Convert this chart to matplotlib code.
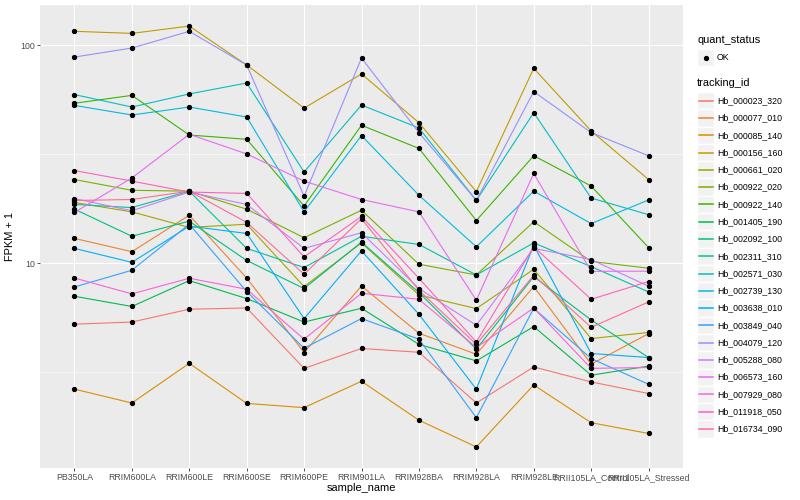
import matplotlib
matplotlib.use("Agg")
import matplotlib.pyplot as plt
import numpy as np
from matplotlib.patches import Rectangle
from matplotlib.ticker import FixedLocator, NullFormatter

plt.rcParams['font.family'] = ['Liberation Sans', 'DejaVu Sans']

samples = ['PB350LA', 'RRIM600LA', 'RRIM600LE', 'RRIM600SE', 'RRIM600PE', 'RRIM901LA',
           'RRIM928BA', 'RRIM928LA', 'RRIM928LE', 'RRII105LA_Control', 'RRII105LA_Stressed']

tracking_ids = ['Hb_000023_320', 'Hb_000077_010', 'Hb_000085_140', 'Hb_000156_160',
                'Hb_000661_020', 'Hb_000922_020', 'Hb_000922_140', 'Hb_001405_190',
                'Hb_002092_100', 'Hb_002311_310', 'Hb_002571_030', 'Hb_002739_130',
                'Hb_003638_010', 'Hb_003849_040', 'Hb_004079_120', 'Hb_005288_080',
                'Hb_006573_160', 'Hb_007929_080', 'Hb_011918_050', 'Hb_016734_090']

# FPKM + 1 per sample, in the order of `samples`
hb_000023_320 = [5.26, 5.38, 6.16, 6.24, 3.30, 4.07, 3.91, 2.29, 3.35, 2.86, 2.53]
hb_000077_010 = [13.0, 11.3, 16.6, 8.56, 3.90, 7.87, 4.78, 3.83, 7.82, 3.45, 4.76]
hb_000085_140 = [2.65, 2.29, 3.48, 2.28, 2.18, 2.88, 1.91, 1.44, 2.77, 1.86, 1.66]
hb_000156_160 = [115.6, 113.1, 122.2, 81.0, 51.4, 73.7, 44.1, 21.3, 78.2, 40.4, 24.2]
hb_000661_020 = [19.0, 17.2, 14.6, 15.1, 7.82, 12.4, 7.16, 6.20, 9.39, 4.52, 4.82]
hb_000922_020 = [24.2, 21.6, 21.4, 17.7, 13.1, 17.5, 9.9, 8.84, 15.5, 10.2, 9.49]
hb_000922_140 = [54.1, 58.8, 38.7, 37.0, 18.3, 42.9, 33.6, 15.7, 31.1, 22.6, 11.8]
hb_001405_190 = [7.06, 6.34, 8.33, 6.89, 5.38, 6.22, 4.25, 3.57, 5.13, 3.07, 3.38]
hb_002092_100 = [17.7, 13.3, 15.6, 10.3, 7.66, 12.5, 7.34, 4.04, 8.69, 5.50, 3.70]
hb_002311_310 = [18.6, 18.0, 21.4, 11.7, 9.56, 13.3, 12.2, 8.84, 12.4, 9.66, 7.39]
hb_002571_030 = [59.3, 52.0, 59.7, 67.0, 26.2, 53.1, 41.7, 19.4, 49.0, 19.9, 16.7]
hb_002739_130 = [52.9, 47.8, 52.0, 46.8, 17.2, 38.5, 20.5, 11.9, 21.4, 15.2, 19.5]
hb_003638_010 = [11.7, 10.1, 14.8, 13.7, 5.58, 11.4, 5.84, 2.65, 12.1, 3.86, 3.70]
hb_003849_040 = [7.79, 9.29, 15.1, 7.42, 4.08, 5.58, 4.49, 1.96, 6.22, 3.66, 2.79]
hb_004079_120 = [88.1, 96.9, 115.6, 81.0, 20.3, 87.2, 39.7, 19.4, 61.2, 39.7, 31.1]
hb_005288_080 = [19.8, 17.4, 21.2, 18.6, 11.7, 13.8, 7.66, 5.20, 11.7, 10.4, 7.85]
hb_006573_160 = [17.1, 24.6, 39.0, 31.7, 23.8, 19.6, 17.2, 6.77, 25.8, 9.19, 9.20]
hb_007929_080 = [8.56, 7.24, 8.54, 7.60, 4.49, 7.29, 6.84, 4.11, 6.24, 3.30, 3.33]
hb_011918_050 = [26.6, 23.8, 21.2, 20.9, 10.7, 16.4, 8.54, 4.36, 11.9, 6.84, 8.25]
hb_016734_090 = [19.4, 19.6, 21.4, 15.4, 8.91, 16.0, 7.52, 4.25, 8.81, 5.09, 6.65]

series = [hb_000023_320, hb_000077_010, hb_000085_140, hb_000156_160, hb_000661_020,
          hb_000922_020, hb_000922_140, hb_001405_190, hb_002092_100, hb_002311_310,
          hb_002571_030, hb_002739_130, hb_003638_010, hb_003849_040, hb_004079_120,
          hb_005288_080, hb_006573_160, hb_007929_080, hb_011918_050, hb_016734_090]

# ggplot2 default hue palette for 20 levels
colors = ['#F8766D', '#EA8331', '#D89000', '#C09B00', '#A3A500', '#7CAE00', '#39B600',
          '#00BB4E', '#00BF7D', '#00C1A3', '#00BFC4', '#00BAE0', '#00B0F6', '#35A2FF',
          '#9590FF', '#C77CFF', '#E76BF3', '#FA62DB', '#FF62BC', '#FF6C91']

fig = plt.figure(figsize=(8, 5), dpi=100)
ax = fig.add_axes([40 / 800, 32 / 500, 643 / 800, 463 / 500])
ax.set_facecolor('#EBEBEB')

x = np.arange(len(samples))
for vals, col in zip(series, colors):
    ax.plot(x, vals, color=col, lw=0.8, zorder=2)
for vals in series:
    ax.plot(x, vals, 'o', color='black', ms=2.8, zorder=3)

ax.set_yscale('log')
allv = np.log10(np.concatenate([np.array(s) for s in series]))
lo, hi = allv.min(), allv.max()
pad = 0.05 * (hi - lo)
ax.set_ylim(10 ** (lo - pad), 10 ** (hi + pad))
ax.set_xlim(-0.6, len(samples) - 0.4)

ax.yaxis.set_major_locator(FixedLocator([10, 100]))
ax.set_yticklabels(['10', '100'])
ax.yaxis.set_minor_locator(FixedLocator([10 ** 0.5, 10 ** 1.5]))
ax.yaxis.set_minor_formatter(NullFormatter())
ax.set_xticks(x)
ax.set_xticklabels(samples)

ax.grid(True, which='major', color='white', lw=0.8)
ax.grid(True, which='minor', axis='y', color='white', lw=0.4)
ax.set_axisbelow(True)
for sp in ax.spines.values():
    sp.set_visible(False)
ax.tick_params(axis='both', which='major', length=2, width=0.6, color='#333333',
               labelsize=6.3, labelcolor='#4D4D4D', pad=1.5)
ax.tick_params(axis='y', which='minor', length=0)

ax.set_xlabel('sample_name', fontsize=7.9, labelpad=1)
ax.set_ylabel('FPKM + 1', fontsize=7.9, labelpad=4)

# legends drawn in pixel coordinates on an overlay
lg = fig.add_axes([0, 0, 1, 1], zorder=5)
lg.set_xlim(0, 800)
lg.set_ylim(500, 0)
lg.axis('off')

lg.text(697, 40, 'quant_status', fontsize=7.9, va='center', ha='left')
lg.add_patch(Rectangle((697, 49), 17, 17, fc='#F2F2F2', ec='white', lw=1))
lg.plot([705.5], [57.5], 'o', color='black', ms=2.8)
lg.text(717, 57.5, 'OK', fontsize=6.3, va='center', ha='left')

lg.text(697, 83, 'tracking_id', fontsize=7.9, va='center', ha='left')
step = 17.28
for i, (name, col) in enumerate(zip(tracking_ids, colors)):
    yc = 100.7 + i * step
    lg.add_patch(Rectangle((697, yc - step / 2), 17, step, fc='#F2F2F2', ec='white', lw=1))
    lg.plot([698.5, 712.5], [yc, yc], color=col, lw=1.1, zorder=3)
    lg.text(717, yc, name, fontsize=6.3, va='center', ha='left')

fig.savefig('out.png', dpi=100)
